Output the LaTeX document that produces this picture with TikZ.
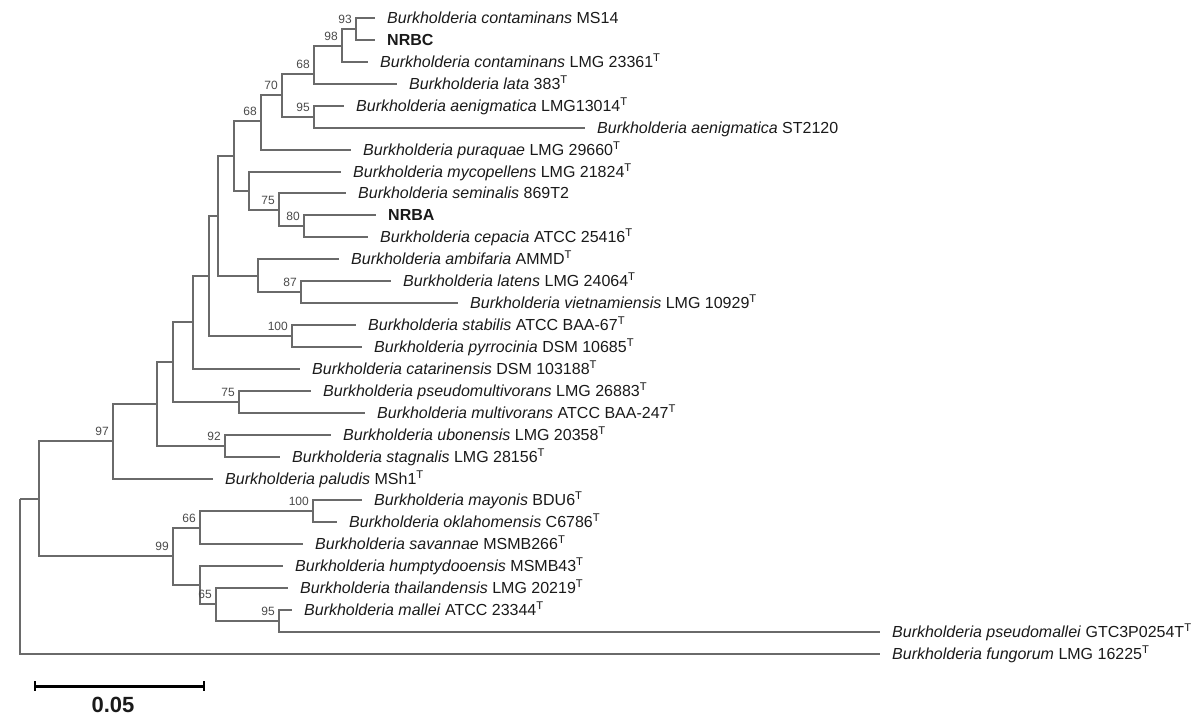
\documentclass[tikz,border=0pt]{standalone}
\usepackage{fontspec}
\setmainfont{Liberation Sans}
\usepackage{tikz}
\usepackage{xcolor}
\usetikzlibrary{positioning}
\definecolor{phline}{HTML}{6A6A6A}
\definecolor{phink}{HTML}{1A1A1A}
\definecolor{phgray}{HTML}{4A4A4A}
\tikzset{
  phbranch/.style={draw=phline, line width=1.3pt},
  phleaf/.style={inner sep=0pt, anchor=west, text=phink, font=\fontsize{16}{19}\selectfont,
    text height=11.5pt, text depth=0pt},
  phstrain/.style={phleaf, font=\fontsize{16}{19}\selectfont\bfseries},
  phboot/.style={inner sep=0pt, text=phgray, font=\fontsize{12}{14}\selectfont},
  phbar/.style={draw=black, line width=3pt},
  phtick/.style={draw=black, line width=2.4pt}
}

\begin{document}
\begin{tikzpicture}[x=1pt, y=-1pt, node distance=12pt]
\path[use as bounding box] (0,0) rectangle (1203,724);
% leaf tips
\coordinate (tMS14) at (375,18);
\coordinate (tNRBC) at (375,40);
\coordinate (tCont) at (368,62);
\coordinate (tLata) at (397,84);
\coordinate (tAenA) at (344,106);
\coordinate (tAenB) at (585,128);
\coordinate (tPura) at (351,150);
\coordinate (tMyco) at (341,172);
\coordinate (tSemi) at (346,193);
\coordinate (tNRBA) at (376,215);
\coordinate (tCepa) at (368,237);
\coordinate (tAmbi) at (339,259);
\coordinate (tLate) at (391,281);
\coordinate (tViet) at (458,303);
\coordinate (tStab) at (356,325);
\coordinate (tPyrr) at (362,347);
\coordinate (tCata) at (300,369);
\coordinate (tPsmu) at (311,391);
\coordinate (tMult) at (365,413);
\coordinate (tUbon) at (331,435);
\coordinate (tStag) at (280,457);
\coordinate (tPalu) at (213,479);
\coordinate (tMayo) at (362,500);
\coordinate (tOkla) at (337,522);
\coordinate (tSava) at (303,544);
\coordinate (tHump) at (283,566);
\coordinate (tThai) at (288,588);
\coordinate (tMall) at (292,610);
\coordinate (tPsml) at (880,632);
\coordinate (tFung) at (880,654);
% internal nodes
\coordinate (n93) at (356,29);
\coordinate (n98) at (342,46);
\coordinate (n68a) at (314,74);
\coordinate (n95a) at (314,117);
\coordinate (n70) at (282,95);
\coordinate (n68b) at (261,121);
\coordinate (n80) at (304,226);
\coordinate (n75a) at (279,210);
\coordinate (nMyco) at (249,191);
\coordinate (nUp) at (234,156);
\coordinate (n87) at (301,292);
\coordinate (nAmbi) at (258,276);
\coordinate (nCep) at (218,216);
\coordinate (n100a) at (292,336);
\coordinate (nStab) at (209,276);
\coordinate (nCata) at (193,322);
\coordinate (n75b) at (239,402);
\coordinate (nMult) at (173,362);
\coordinate (n92) at (225,446);
\coordinate (nUbon) at (157,404);
\coordinate (n97) at (113,441);
\coordinate (n100b) at (313,511);
\coordinate (n66) at (200,528);
\coordinate (n95b) at (279,621);
\coordinate (n65) at (216,604);
\coordinate (nHump) at (200,585);
\coordinate (n99) at (173,556);
\coordinate (nIng) at (39,499);
\coordinate (root) at (20,499);
% branches
\draw[phbranch] (n93) |- (tMS14);
\draw[phbranch] (n93) |- (tNRBC);
\draw[phbranch] (n98) |- (n93);
\draw[phbranch] (n98) |- (tCont);
\draw[phbranch] (n68a) |- (n98);
\draw[phbranch] (n68a) |- (tLata);
\draw[phbranch] (n95a) |- (tAenA);
\draw[phbranch] (n95a) |- (tAenB);
\draw[phbranch] (n70) |- (n68a);
\draw[phbranch] (n70) |- (n95a);
\draw[phbranch] (n68b) |- (n70);
\draw[phbranch] (n68b) |- (tPura);
\draw[phbranch] (nUp) |- (n68b);
\draw[phbranch] (nUp) |- (nMyco);
\draw[phbranch] (nMyco) |- (tMyco);
\draw[phbranch] (nMyco) |- (n75a);
\draw[phbranch] (n75a) |- (tSemi);
\draw[phbranch] (n75a) |- (n80);
\draw[phbranch] (n80) |- (tNRBA);
\draw[phbranch] (n80) |- (tCepa);
\draw[phbranch] (nCep) |- (nUp);
\draw[phbranch] (nCep) |- (nAmbi);
\draw[phbranch] (nAmbi) |- (tAmbi);
\draw[phbranch] (nAmbi) |- (n87);
\draw[phbranch] (n87) |- (tLate);
\draw[phbranch] (n87) |- (tViet);
\draw[phbranch] (nStab) |- (nCep);
\draw[phbranch] (nStab) |- (n100a);
\draw[phbranch] (n100a) |- (tStab);
\draw[phbranch] (n100a) |- (tPyrr);
\draw[phbranch] (nCata) |- (nStab);
\draw[phbranch] (nCata) |- (tCata);
\draw[phbranch] (nMult) |- (nCata);
\draw[phbranch] (nMult) |- (n75b);
\draw[phbranch] (n75b) |- (tPsmu);
\draw[phbranch] (n75b) |- (tMult);
\draw[phbranch] (nUbon) |- (nMult);
\draw[phbranch] (nUbon) |- (n92);
\draw[phbranch] (n92) |- (tUbon);
\draw[phbranch] (n92) |- (tStag);
\draw[phbranch] (n97) |- (nUbon);
\draw[phbranch] (n97) |- (tPalu);
\draw[phbranch] (nIng) |- (n97);
\draw[phbranch] (nIng) |- (n99);
\draw[phbranch] (n99) |- (n66);
\draw[phbranch] (n99) |- (nHump);
\draw[phbranch] (n66) |- (n100b);
\draw[phbranch] (n66) |- (tSava);
\draw[phbranch] (n100b) |- (tMayo);
\draw[phbranch] (n100b) |- (tOkla);
\draw[phbranch] (nHump) |- (tHump);
\draw[phbranch] (nHump) |- (n65);
\draw[phbranch] (n65) |- (tThai);
\draw[phbranch] (n65) |- (n95b);
\draw[phbranch] (n95b) |- (tMall);
\draw[phbranch] (n95b) |- (tPsml);
\draw[phbranch] (root) |- (nIng);
\draw[phbranch] (root) |- (tFung);
% taxon labels
\node[phleaf, right=of tMS14] (lMS14) {\textit{Burkholderia contaminans} MS14};
\node[phstrain, right=of tNRBC] (lNRBC) {NRBC};
\node[phleaf, right=of tCont] (lCont) {\textit{Burkholderia contaminans} LMG 23361\textsuperscript{T}};
\node[phleaf, right=of tLata] (lLata) {\textit{Burkholderia lata} 383\textsuperscript{T}};
\node[phleaf, right=of tAenA] (lAenA) {\textit{Burkholderia aenigmatica} LMG13014\textsuperscript{T}};
\node[phleaf, right=of tAenB] (lAenB) {\textit{Burkholderia aenigmatica} ST2120};
\node[phleaf, right=of tPura] (lPura) {\textit{Burkholderia puraquae} LMG 29660\textsuperscript{T}};
\node[phleaf, right=of tMyco] (lMyco) {\textit{Burkholderia mycopellens} LMG 21824\textsuperscript{T}};
\node[phleaf, right=of tSemi] (lSemi) {\textit{Burkholderia seminalis} 869T2};
\node[phstrain, right=of tNRBA] (lNRBA) {NRBA};
\node[phleaf, right=of tCepa] (lCepa) {\textit{Burkholderia cepacia} ATCC 25416\textsuperscript{T}};
\node[phleaf, right=of tAmbi] (lAmbi) {\textit{Burkholderia ambifaria} AMMD\textsuperscript{T}};
\node[phleaf, right=of tLate] (lLate) {\textit{Burkholderia latens} LMG 24064\textsuperscript{T}};
\node[phleaf, right=of tViet] (lViet) {\textit{Burkholderia vietnamiensis} LMG 10929\textsuperscript{T}};
\node[phleaf, right=of tStab] (lStab) {\textit{Burkholderia stabilis} ATCC BAA-67\textsuperscript{T}};
\node[phleaf, right=of tPyrr] (lPyrr) {\textit{Burkholderia pyrrocinia} DSM 10685\textsuperscript{T}};
\node[phleaf, right=of tCata] (lCata) {\textit{Burkholderia catarinensis} DSM 103188\textsuperscript{T}};
\node[phleaf, right=of tPsmu] (lPsmu) {\textit{Burkholderia pseudomultivorans} LMG 26883\textsuperscript{T}};
\node[phleaf, right=of tMult] (lMult) {\textit{Burkholderia multivorans} ATCC BAA-247\textsuperscript{T}};
\node[phleaf, right=of tUbon] (lUbon) {\textit{Burkholderia ubonensis} LMG 20358\textsuperscript{T}};
\node[phleaf, right=of tStag] (lStag) {\textit{Burkholderia stagnalis} LMG 28156\textsuperscript{T}};
\node[phleaf, right=of tPalu] (lPalu) {\textit{Burkholderia paludis} MSh1\textsuperscript{T}};
\node[phleaf, right=of tMayo] (lMayo) {\textit{Burkholderia mayonis} BDU6\textsuperscript{T}};
\node[phleaf, right=of tOkla] (lOkla) {\textit{Burkholderia oklahomensis} C6786\textsuperscript{T}};
\node[phleaf, right=of tSava] (lSava) {\textit{Burkholderia savannae} MSMB266\textsuperscript{T}};
\node[phleaf, right=of tHump] (lHump) {\textit{Burkholderia humptydooensis} MSMB43\textsuperscript{T}};
\node[phleaf, right=of tThai] (lThai) {\textit{Burkholderia thailandensis} LMG 20219\textsuperscript{T}};
\node[phleaf, right=of tMall] (lMall) {\textit{Burkholderia mallei} ATCC 23344\textsuperscript{T}};
\node[phleaf, right=of tPsml] (lPsml) {\textit{Burkholderia pseudomallei} GTC3P0254T\textsuperscript{T}};
\node[phleaf, right=of tFung] (lFung) {\textit{Burkholderia fungorum} LMG 16225\textsuperscript{T}};
% bootstrap values
\node[phboot, above left=5pt and 4pt of n93] (b93) {93};
\node[phboot, above left=5pt and 4pt of n98] (b98) {98};
\node[phboot, above left=5pt and 4pt of n68a] (b68a) {68};
\node[phboot, above left=5pt and 4pt of n95a] (b95a) {95};
\node[phboot, above left=5pt and 4pt of n70] (b70) {70};
\node[phboot, above left=5pt and 4pt of n68b] (b68b) {68};
\node[phboot, above left=5pt and 4pt of n75a] (b75a) {75};
\node[phboot, above left=5pt and 4pt of n80] (b80) {80};
\node[phboot, above left=5pt and 4pt of n87] (b87) {87};
\node[phboot, above left=5pt and 4pt of n100a] (b100a) {100};
\node[phboot, above left=5pt and 4pt of n75b] (b75b) {75};
\node[phboot, above left=5pt and 4pt of n92] (b92) {92};
\node[phboot, above left=5pt and 4pt of n97] (b97) {97};
\node[phboot, above left=5pt and 4pt of n100b] (b100b) {100};
\node[phboot, above left=5pt and 4pt of n66] (b66) {66};
\node[phboot, above left=5pt and 4pt of n99] (b99) {99};
\node[phboot, above left=5pt and 4pt of n65] (b65) {65};
\node[phboot, above left=5pt and 4pt of n95b] (b95b) {95};
% scale bar
\coordinate (sbL) at (35,686);
\coordinate (sbR) at (204,686);
\draw[phbar] (sbL) -- (sbR);
\draw[phtick] ([yshift=5pt]sbL) -- ([yshift=-5pt]sbL);
\draw[phtick] ([yshift=5pt]sbR) -- ([yshift=-5pt]sbR);
\node[font=\fontsize{22}{25}\selectfont\bfseries, text=phink, inner sep=0pt] (sblab) at (113,705) {0.05};
\end{tikzpicture}
\end{document}
